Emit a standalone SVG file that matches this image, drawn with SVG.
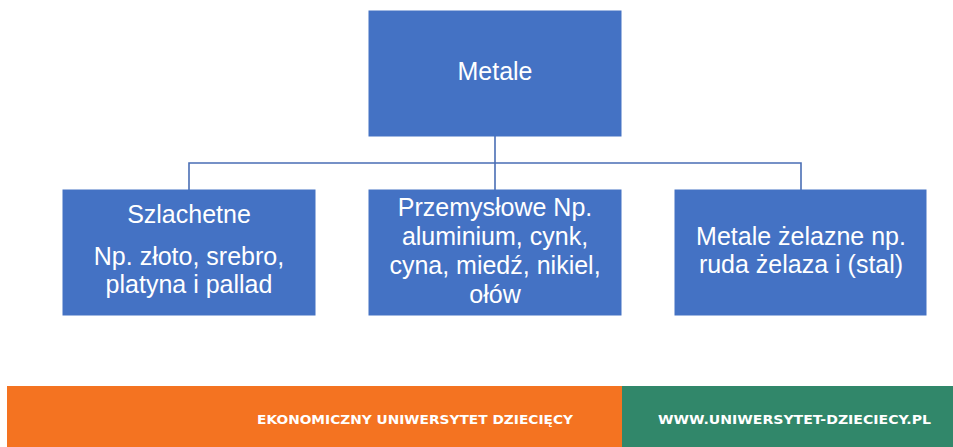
<svg xmlns="http://www.w3.org/2000/svg" width="953" height="447" viewBox="0 0 953 447">
<style>
.box{fill:#4472C4;stroke:#4472C4;stroke-width:1}
.t{font-family:"Liberation Sans",Arial,sans-serif;font-size:25px;fill:#ffffff;text-anchor:middle}
.conn{stroke:#4A6EB5;stroke-width:1.6;fill:none}
.ft{font-family:"DejaVu Sans",Verdana,sans-serif;font-size:12.5px;font-weight:bold;fill:#ffffff}
</style>
<rect width="953" height="447" fill="#ffffff"/>
<g id="connectors">
<path class="conn" d="M495,136 V190 M189,190 V163 H801 V190"/>
</g>
<g id="node-metale">
<rect class="box" x="369" y="11" width="252" height="125"/>
<text class="t" x="495" y="80">Metale</text>
</g>
<g id="node-szlachetne">
<rect class="box" x="63" y="190" width="252" height="125"/>
<text class="t" x="189" y="223">Szlachetne</text>
<text class="t" x="189" y="265">Np. złoto, srebro,</text>
<text class="t" x="189" y="293">platyna i pallad</text>
</g>
<g id="node-przemyslowe">
<rect class="box" x="369" y="190" width="252" height="125"/>
<text class="t" x="495" y="216">Przemysłowe Np.</text>
<text class="t" x="495" y="245">aluminium, cynk,</text>
<text class="t" x="495" y="274">cyna, miedź, nikiel,</text>
<text class="t" x="495" y="303">ołów</text>
</g>
<g id="node-zelazne">
<rect class="box" x="675" y="190" width="251" height="125"/>
<text class="t" x="801" y="245">Metale żelazne np.</text>
<text class="t" x="801" y="273">ruda żelaza i (stal)</text>
</g>
<g id="footer">
<rect x="7" y="386" width="615" height="61" fill="#F47321"/>
<rect x="622" y="386" width="331" height="61" fill="#31876A"/>
<text class="ft" x="257" y="424" textLength="316" lengthAdjust="spacingAndGlyphs">EKONOMICZNY UNIWERSYTET DZIECIĘCY</text>
<text class="ft" x="658" y="424" textLength="273" lengthAdjust="spacingAndGlyphs">WWW.UNIWERSYTET-DZIECIECY.PL</text>
</g>
</svg>
